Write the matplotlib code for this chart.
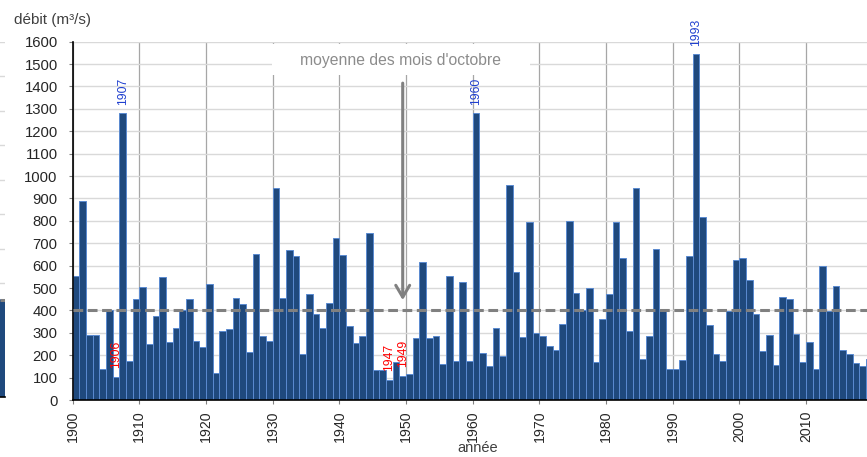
import matplotlib
matplotlib.use("Agg")
import matplotlib.pyplot as plt
from matplotlib.patches import Rectangle
import numpy as np

plt.rcParams['font.family'] = ['Liberation Sans Narrow', 'Liberation Sans', 'DejaVu Sans']
plt.rcParams['lines.scale_dashes'] = False

# ---- data ----
years = list(range(1900, 2020))
debit = [555, 887, 290, 290, 137, 400, 104, 1280, 173, 449,
         503, 251, 375, 548, 259, 323, 400, 452, 265, 238,
         516, 122, 307, 318, 455, 430, 213, 650, 284, 263,
         945, 454, 670, 641, 205, 473, 382, 321, 432, 723,
         649, 329, 256, 284, 744, 132, 135, 89, 171, 107,
         118, 278, 616, 278, 286, 162, 555, 173, 525, 176,
         1280, 208, 152, 320, 195, 958, 570, 281, 793, 298,
         287, 241, 222, 338, 799, 476, 400, 498, 168, 363,
         472, 793, 635, 307, 948, 185, 287, 673, 400, 140,
         140, 180, 644, 1543, 815, 335, 204, 176, 396, 626,
         632, 534, 385, 217, 292, 155, 461, 452, 293, 171,
         260, 137, 597, 397, 510, 222, 205, 165, 152, 185]
moyenne = 402
high_years = [1907, 1960, 1993]
low_years = [1906, 1947, 1949]
arrow_top = 1415
arrow_tip = 446
yticks = list(range(0, 1700, 100))
xticks = list(range(1900, 2020, 10))
# fragment of neighbouring chart at the left edge
frag_value = [285]
frag_mean = 280

W, H = 867, 457
fig = plt.figure(figsize=(W / 100, H / 100), dpi=100)

def px(x0, ytop, w, h):
    return [x0 / W, (H - ytop - h) / H, w / W, h / H]

BAR_FC = '#1f497d'
BAR_EC = '#5a8ad0'

# ---- fragment axes (left edge) ----
ax0 = fig.add_axes(px(0, 41.7, 4.7, 355.3))
ax0.set_xlim(-0.3, 0.5)
ax0.set_ylim(0, 1030)
ax0.set_axisbelow(True)
ax0.set_yticks(np.arange(1030, 0, -100))
ax0.yaxis.grid(True, color='#d9d9d9', lw=1)
ax0.bar([0], frag_value, width=1.0, color=BAR_FC, edgecolor=BAR_EC, lw=0.7)
ax0.axhline(frag_mean, color='#808080', lw=2.2, dashes=(7, 3.3))
ax0.tick_params(left=False, bottom=False, labelleft=False, labelbottom=False)
for s in ['top', 'right', 'left']:
    ax0.spines[s].set_visible(False)
ax0.spines['bottom'].set_color('black')
ax0.spines['bottom'].set_linewidth(1.2)

# ---- main axes ----
ax_w = W - 72.7
ax = fig.add_axes(px(72.7, 41.7, ax_w, 358.3))
ax.set_ylim(0, 1600)
ax.set_xlim(1900, 1900 + ax_w / 6.667)
ax.set_axisbelow(True)

ax.bar(years, debit, width=1.0, align='edge', color=BAR_FC, edgecolor=BAR_EC,
       linewidth=0.7, zorder=2)

ax.set_yticks(yticks)
ax.set_xticks(xticks)
ax.set_xticklabels([str(t) for t in xticks], rotation=90)
ax.yaxis.grid(True, color='#d9d9d9', lw=1)
ax.xaxis.grid(True, color='#a6a6a6', lw=0.9)

ax.tick_params(axis='y', length=3, color='#808080', pad=7.8, labelsize=10.7,
               labelcolor='#262626')
ax.tick_params(axis='x', length=3, color='#808080', pad=4.5, labelsize=10.2,
               labelcolor='#262626')
for s in ['top', 'right']:
    ax.spines[s].set_visible(False)
for s in ['left', 'bottom']:
    ax.spines[s].set_color('black')
    ax.spines[s].set_linewidth(1.2)
    ax.spines[s].set_zorder(3)

# mean line
ax.axhline(moyenne, color='#808080', lw=2.2, dashes=(7, 3.3), zorder=4)

# year labels
idx = {y: i for i, y in enumerate(years)}
for y in high_years:
    ax.annotate(str(y), xy=(y + 0.5, debit[idx[y]]), xytext=(0, 5.8),
                textcoords='offset points', rotation=90, ha='center', va='bottom',
                color='#1f3fcf', fontsize=8.7, annotation_clip=False, zorder=5)
for y in low_years:
    ax.annotate(str(y), xy=(y + 0.5, debit[idx[y]]), xytext=(0, 6.2),
                textcoords='offset points', rotation=90, ha='center', va='bottom',
                color='#ff0000', fontsize=8.7, annotation_clip=False, zorder=5)

# arrow
ax.annotate('', xy=(1949.5, arrow_tip), xytext=(1949.5, arrow_top),
            arrowprops=dict(arrowstyle='->,head_length=0.85,head_width=0.5',
                            color='#808080', lw=2.2, shrinkA=0, shrinkB=0),
            zorder=5)

# legend box
fig.patches.append(Rectangle(((272) / W, (H - 75) / H), 258 / W, 31 / H,
                             transform=fig.transFigure, facecolor='white',
                             edgecolor='none', zorder=5))
fig.text(401 / W, (H - 61) / H, "moyenne des mois d'octobre", ha='center',
         va='center', fontsize=11.3, color='#8c8c8c', zorder=6)

fig.text(14 / W, (H - 24) / H, 'débit (m³/s)', ha='left', va='baseline',
         fontsize=11, color='#404040')
fig.text(478 / W, 1.5 / H, 'année', ha='center', va='bottom',
         fontsize=10.5, color='#404040')

fig.savefig('out.png', dpi=100)
